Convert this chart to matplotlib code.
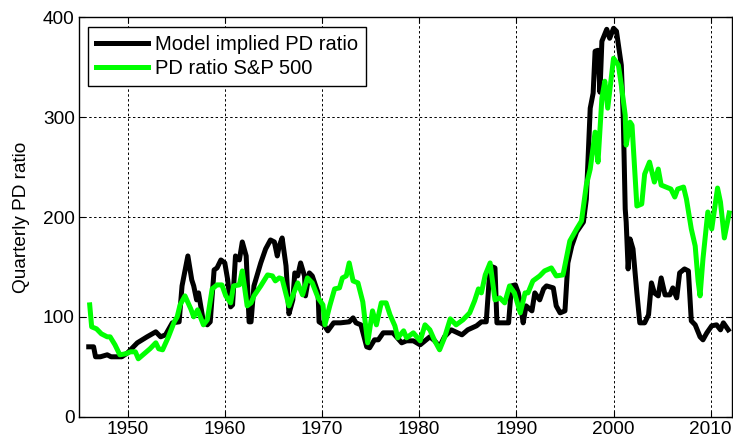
import matplotlib
matplotlib.use('Agg')
import matplotlib.pyplot as plt

plt.rcParams['font.family'] = ['Liberation Sans', 'DejaVu Sans']

# model implied PD ratio (year, value)
model_year = [1946.0, 1946.5, 1946.7, 1947.2, 1947.9, 1948.3, 1948.7, 1949.4, 1950.0,
              1951.0, 1952.0, 1952.9, 1953.4, 1953.9, 1954.6, 1955.3, 1955.6, 1956.2,
              1956.6, 1956.8, 1957.1, 1957.3, 1957.8, 1958.2, 1958.5, 1958.9, 1959.2,
              1959.6, 1960.0, 1960.3, 1960.6, 1960.8, 1961.1, 1961.5, 1961.8, 1962.2,
              1962.5, 1962.7, 1963.0, 1963.7, 1964.2, 1964.7, 1965.1, 1965.4, 1965.6,
              1965.9, 1966.3, 1966.6, 1967.0, 1967.2, 1967.5, 1967.8, 1968.2, 1968.3,
              1968.7, 1969.0, 1969.6, 1969.7, 1970.2, 1970.6, 1971.2, 1971.9, 1972.8,
              1973.2, 1973.5, 1974.0, 1974.6, 1974.9, 1975.4, 1975.8, 1976.3, 1977.3,
              1978.2, 1978.7, 1979.4, 1980.1, 1981.1, 1981.6, 1982.1, 1982.6, 1983.3,
              1984.4, 1985.0, 1985.9, 1986.4, 1986.9, 1987.3, 1987.8, 1988.0, 1989.2,
              1989.5, 1989.9, 1990.2, 1990.5, 1990.7, 1991.0, 1991.6, 1991.9, 1992.4,
              1992.8, 1993.1, 1993.8, 1994.1, 1994.5, 1995.0, 1995.3, 1995.7, 1996.2,
              1996.9, 1997.2, 1997.6, 1997.9, 1998.1, 1998.4, 1998.6, 1998.8, 1999.3,
              1999.6, 2000.0, 2000.3, 2000.8, 2001.0, 2001.2, 2001.3, 2001.5, 2001.7,
              2002.0, 2002.4, 2002.7, 2003.2, 2003.6, 2003.9, 2004.2, 2004.6, 2004.9,
              2005.3, 2005.8, 2006.1, 2006.5, 2006.8, 2007.3, 2007.7, 2008.0, 2008.4,
              2008.9, 2009.2, 2009.6, 2010.1, 2010.6, 2011.0, 2011.3, 2011.8]
model_pd = [70, 70, 60, 60, 62, 60, 60, 60, 64,
            74, 80, 85, 80, 82, 94, 95, 131, 161,
            137, 131, 117, 124, 95, 92, 95, 147, 149,
            157, 154, 137, 110, 112, 161, 157, 175, 161,
            95, 95, 131, 154, 168, 177, 175, 161, 171,
            179, 151, 103, 117, 144, 141, 154, 141, 121,
            144, 141, 124, 95, 92, 86, 94, 94, 95,
            99, 94, 92, 70, 69, 77, 77, 84, 84,
            74, 76, 76, 72, 80, 76, 70, 80, 87,
            82, 87, 91, 95, 95, 151, 149, 94, 94,
            131, 132, 124, 107, 94, 111, 106, 124, 117,
            128, 131, 129, 111, 104, 106, 154, 171, 185,
            195, 218, 309, 324, 366, 367, 325, 376, 388,
            379, 389, 386, 352, 299, 208, 195, 148, 178,
            168, 124, 94, 94, 102, 134, 124, 121, 139,
            122, 122, 129, 119, 144, 148, 146, 96, 92,
            80, 77, 84, 91, 92, 87, 94, 87]

# PD ratio of the S&P 500
sp_year = [1946.1, 1946.3, 1946.8, 1947.3, 1947.9, 1948.2, 1948.7, 1949.2, 1949.8,
           1950.3, 1950.8, 1951.1, 1951.7, 1952.3, 1952.9, 1953.2, 1953.6, 1954.2,
           1954.8, 1955.1, 1955.4, 1955.9, 1956.5, 1956.8, 1957.2, 1957.8, 1958.2,
           1958.7, 1959.2, 1959.7, 1960.1, 1960.6, 1960.9, 1961.5, 1961.8, 1962.3,
           1962.7, 1963.0, 1963.7, 1964.4, 1964.9, 1965.2, 1965.6, 1965.9, 1966.6,
           1967.1, 1967.5, 1968.0, 1968.5, 1969.0, 1969.6, 1970.1, 1970.3, 1970.8,
           1971.3, 1971.8, 1972.1, 1972.5, 1972.8, 1973.2, 1973.7, 1974.2, 1974.7,
           1975.2, 1975.6, 1976.1, 1976.6, 1977.0, 1977.5, 1977.8, 1978.4, 1978.7,
           1979.4, 1980.1, 1980.6, 1981.1, 1981.6, 1982.1, 1982.6, 1983.2, 1983.8,
           1984.5, 1985.2, 1985.7, 1986.1, 1986.4, 1986.8, 1987.3, 1987.8, 1988.3,
           1988.8, 1989.3, 1989.8, 1990.4, 1990.9, 1991.2, 1991.7, 1992.4, 1992.9,
           1993.6, 1994.1, 1994.8, 1995.5, 1996.2, 1996.7, 1997.2, 1997.6, 1998.1,
           1998.4, 1998.8, 1999.1, 1999.4, 2000.0, 2000.5, 2000.8, 2001.2, 2001.3,
           2001.7, 2001.9, 2002.4, 2002.9, 2003.2, 2003.7, 2004.2, 2004.6, 2004.9,
           2005.4, 2005.9, 2006.3, 2006.6, 2007.2, 2007.5, 2008.0, 2008.4, 2008.7,
           2008.9, 2009.2, 2009.7, 2010.1, 2010.7, 2011.0, 2011.4, 2011.9]
sp_pd = [112, 90, 88, 83, 80, 80, 72, 62, 63,
         65, 65, 58, 63, 68, 74, 68, 67, 80,
         95, 100, 112, 121, 108, 100, 107, 92, 97,
         128, 132, 132, 121, 114, 131, 132, 146, 111,
         114, 121, 131, 142, 141, 136, 139, 138, 111,
         124, 134, 122, 139, 134, 119, 112, 92, 111,
         128, 129, 139, 141, 154, 136, 134, 115, 74,
         106, 92, 114, 114, 102, 91, 79, 86, 79,
         84, 76, 92, 87, 76, 67, 79, 98, 92,
         97, 104, 116, 128, 124, 142, 154, 117, 119,
         114, 131, 124, 104, 124, 124, 136, 141, 146,
         149, 141, 142, 176, 188, 196, 232, 248, 285,
         255, 319, 336, 309, 359, 352, 332, 302, 272,
         295, 292, 211, 213, 243, 255, 235, 248, 232,
         230, 228, 220, 228, 230, 218, 188, 171, 136,
         121, 158, 205, 188, 229, 215, 179, 204]

years_ticks = [1950, 1960, 1970, 1980, 1990, 2000, 2010]
pd_ticks = [0, 100, 200, 300, 400]

fig = plt.figure(figsize=(7.33, 4.46), dpi=100)
ax = fig.add_axes([0.1078, 0.0657, 0.891, 0.8955])

ax.plot(model_year, model_pd, color='black', lw=3.6, label='Model implied PD ratio')
ax.plot(sp_year, sp_pd, color='#00ff00', lw=3.6, label='PD ratio S&P 500')

ax.set_xlim(1945, 2012.2)
ax.set_ylim(0, 400)
ax.set_xticks(years_ticks)
ax.set_yticks(pd_ticks)
ax.tick_params(direction='in', labelsize=13.7, length=4, top=True, right=True, pad=3)
ax.grid(True, color='black', linestyle=(0, (2.5, 2.5)), linewidth=0.7)
for s in ax.spines.values():
    s.set_linewidth(1.0)
ax.set_ylabel('Quarterly PD ratio', fontsize=13.7, labelpad=9)

leg = ax.legend(loc='upper left', bbox_to_anchor=(0.0133, 0.9765), borderaxespad=0,
                fontsize=14.5, fancybox=False, framealpha=1, edgecolor='black',
                handlelength=2.6, handletextpad=0.35, labelspacing=0.25, borderpad=0.4)
leg.get_frame().set_linewidth(1.0)

fig.savefig('out.png', dpi=100)
